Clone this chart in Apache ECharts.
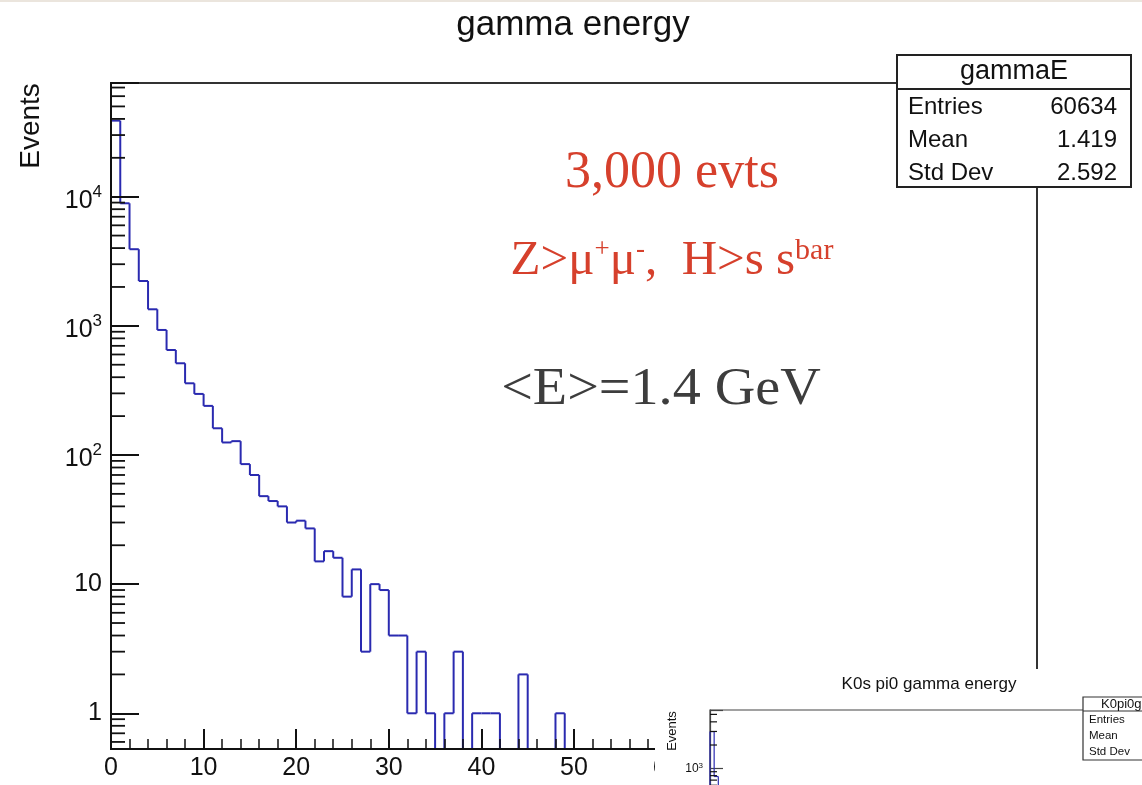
<!DOCTYPE html>
<html>
<head>
<meta charset="utf-8">
<title>gamma energy</title>
<script src="https://cdn.jsdelivr.net/npm/echarts@6/dist/echarts.min.js"></script>
<style>
  html, body { margin: 0; padding: 0; background: #ffffff; }
  #chart { width: 1142px; height: 785px; }
</style>
</head>
<body>
<div id="chart"></div>
<script>
// ---- histogram contents (1 GeV bins starting at 0) ----
const binWidth = 1;
const gammaCounts = [
  38800, 8890, 3920, 2225, 1343, 929, 650, 513, 359, 297,
  240, 161, 125, 128, 85, 70, 48, 44, 40, 30,
  31, 27, 15, 18, 16, 8, 13, 3, 10, 9,
  4, 4, 1, 3, 1, 0, 1, 3, 0, 1,
  1, 1, 0, 0, 2, 0, 0, 0, 1, 0,
  0, 0, 0, 0, 0, 0, 0, 0
];
// second pad: K0s pi0 photons (only the first bins are on the page)
const k0Counts = [2990, 780];

// ---- axis ticks ----
const yTickValues = [1, 10, 100, 1000, 10000];
const yTickLabels = ['1', '10', '{b|10}{sup|2}', '{b|10}{sup|3}', '{b|10}{sup|4}'];
const yMinorTicks = [
  0.6, 0.7, 0.8, 0.9,
  2, 3, 4, 5, 6, 7, 8, 9,
  20, 30, 40, 50, 60, 70, 80, 90,
  200, 300, 400, 500, 600, 700, 800, 900,
  2000, 3000, 4000, 5000, 6000, 7000, 8000, 9000,
  20000, 30000, 40000, 50000, 60000, 70000
];
const k0MinorTicks = [600, 700, 800, 900, 2000, 3000, 4000, 5000];

// ---- stats boxes ----
const statsTitle = 'gammaE';
const statsLabels = ['Entries', 'Mean', 'Std Dev'];
const statsValues = ['60634', '1.419', '2.592'];
const k0StatsTitle = 'K0pi0gammaE';
const k0StatsLabels = ['Entries', 'Mean', 'Std Dev'];

// ---- texts ----
const mainTitle = 'gamma energy';
const k0Title = 'K0s pi0 gamma energy';
const yName = 'Events';
const noteEvents = '3,000 evts';
const noteMean = '<E>=1.4 GeV';

const SANS = 'Liberation Sans, Arial, Helvetica, sans-serif';
const SERIF = 'Liberation Serif, Times New Roman, serif';
const RED = '#d6402c';
const INK = '#111111';
const HIST = '#2a2ab0';

function decadeLabel(v) {
  const k = yTickValues.findIndex(t => Math.abs(Math.log10(v) - Math.log10(t)) < 1e-6);
  return k >= 0 ? yTickLabels[k] : '';
}

// step outline of a 1-D histogram; empty bins sit on the frame bottom
function histRenderer(counts, color, width) {
  return function (params, api) {
    const i = params.dataIndex;
    const lo = api.value(0), hi = api.value(1), c = api.value(2);
    const cs = params.coordSys;
    const bottom = cs.y + cs.height;
    const yOf = v => (v > 0 ? api.coord([lo, v])[1] : bottom);
    const xl = api.coord([lo, 1])[0];
    const xr = api.coord([hi, 1])[0];
    const prev = i > 0 ? counts[i - 1] : 0;
    const y = yOf(c), yp = yOf(prev);
    const st = { stroke: color, lineWidth: width };
    const children = [];
    if (c > 0) children.push({ type: 'line', shape: { x1: xl, y1: y, x2: xr, y2: y }, style: st });
    if (Math.abs(y - yp) > 0.01) children.push({ type: 'line', shape: { x1: xl, y1: yp, x2: xl, y2: y }, style: st });
    if (i === counts.length - 1 && c > 0) children.push({ type: 'line', shape: { x1: xr, y1: y, x2: xr, y2: bottom }, style: st });
    return { type: 'group', children };
  };
}

// short minor ticks on a log axis at 2..9 x 10^n
function minorTickRenderer(len, width) {
  return function (params, api) {
    const p = api.coord([api.value(0), api.value(1)]);
    return {
      type: 'line',
      shape: { x1: p[0], y1: p[1], x2: p[0] + len, y2: p[1] },
      style: { stroke: INK, lineWidth: width }
    };
  };
}

function histData(counts) {
  return counts.map((c, i) => [i * binWidth, (i + 1) * binWidth, c]);
}

const chart = echarts.init(document.getElementById('chart'), null, { renderer: 'canvas' });

const option = {
  animation: false,
  backgroundColor: '#ffffff',
  grid: [
    { left: 111, top: 83, width: 926, height: 666, show: true, borderColor: '#333', borderWidth: 2,
      backgroundColor: 'transparent', z: 0, containLabel: false, outerBoundsMode: 'none' },
    { left: 710, top: 710, width: 433, height: 76, show: true, borderColor: '#444', borderWidth: 1.2,
      backgroundColor: 'transparent', z: 60, containLabel: false, outerBoundsMode: 'none' }
  ],
  xAxis: [
    {
      gridIndex: 0, type: 'value', min: 0, max: 100, interval: 10, z: 5,
      axisLine: { show: true, lineStyle: { color: INK, width: 2 } },
      axisTick: { show: true, inside: true, length: 20, lineStyle: { color: INK, width: 2 } },
      minorTick: { show: true, splitNumber: 5, length: 10, lineStyle: { color: INK, width: 1.5 } },
      splitLine: { show: false },
      axisLabel: { show: true, fontSize: 25, color: INK, fontFamily: SANS, margin: 7 }
    },
    {
      gridIndex: 1, type: 'value', min: 0, max: 104.3, z: 60,
      axisLine: { show: false },
      axisTick: { show: false },
      splitLine: { show: false },
      axisLabel: { show: false }
    }
  ],
  yAxis: [
    {
      gridIndex: 0, type: 'log', logBase: 10, min: 0.529, max: 75900, z: 5,
      axisLine: { show: true, lineStyle: { color: INK, width: 2 } },
      axisTick: { show: true, inside: true, length: 28, lineStyle: { color: INK, width: 2 } },
      minorTick: { show: false },
      splitLine: { show: false },
      axisLabel: {
        show: true, fontSize: 25, color: INK, fontFamily: SANS, margin: 9,
        formatter: decadeLabel,
        rich: {
          b: { fontSize: 25, color: INK, fontFamily: SANS, padding: [9, 0, 0, 0] },
          sup: { fontSize: 17, color: INK, fontFamily: SANS, verticalAlign: 'top', padding: [4, 0, 0, 0] }
        }
      }
    },
    {
      gridIndex: 1, type: 'log', logBase: 10, min: 587, max: 5700, z: 60,
      axisLine: { show: true, lineStyle: { color: '#444', width: 1.2 } },
      axisTick: { show: true, inside: true, length: 13, lineStyle: { color: '#444', width: 1.2 } },
      minorTick: { show: false },
      splitLine: { show: false },
      axisLabel: {
        show: true, fontSize: 12, color: INK, fontFamily: SANS, margin: 7,
        formatter: decadeLabel,
        rich: {
          b: { fontSize: 12, color: INK, fontFamily: SANS },
          sup: { fontSize: 8, color: INK, fontFamily: SANS, verticalAlign: 'top' }
        }
      }
    }
  ],
  series: [
    {
      name: 'gammaE', type: 'custom', xAxisIndex: 0, yAxisIndex: 0, z: 3,
      encode: { x: [0, 1], y: 2 },
      renderItem: histRenderer(gammaCounts, HIST, 2),
      data: histData(gammaCounts), clip: false, silent: true
    },
    {
      name: 'yMinor', type: 'custom', xAxisIndex: 0, yAxisIndex: 0, z: 6,
      encode: { x: 0, y: 1 },
      renderItem: minorTickRenderer(14, 1.8),
      data: yMinorTicks.map(v => [0, v]), clip: false, silent: true
    },
    {
      name: 'K0pi0gammaE', type: 'custom', xAxisIndex: 1, yAxisIndex: 1, z: 61,
      encode: { x: [0, 1], y: 2 },
      renderItem: histRenderer(k0Counts, HIST, 1.2),
      data: histData(k0Counts), clip: false, silent: true
    },
    {
      name: 'k0Minor', type: 'custom', xAxisIndex: 1, yAxisIndex: 1, z: 62,
      encode: { x: 0, y: 1 },
      renderItem: minorTickRenderer(7, 1.2),
      data: k0MinorTicks.map(v => [0, v]), clip: false, silent: true
    }
  ],
  graphic: [
    // faint strip along the top edge
    { type: 'rect', z: 1, shape: { x: 0, y: 0, width: 1142, height: 2 }, style: { fill: '#ebe5dd' }, silent: true },
    // main title
    { type: 'text', z: 10, x: 573, y: 25,
      style: { text: mainTitle, fontSize: 35, fontFamily: SANS, fill: INK, align: 'center', verticalAlign: 'middle' } },
    // y axis title
    { type: 'text', z: 10, x: 31, y: 126, rotation: Math.PI / 2,
      style: { text: yName, fontSize: 28, fontFamily: SANS, fill: INK, align: 'center', verticalAlign: 'middle' } },
    // annotations
    { type: 'text', z: 10, x: 672, y: 173,
      style: { text: noteEvents, fontSize: 52, fontFamily: SERIF, fill: RED, align: 'center', verticalAlign: 'middle' } },
    { type: 'text', z: 10, x: 672, y: 261,
      style: {
        text: '{n|Z>μ}{s|+}{n|μ}{s|-}{n|,  H>s s}{b|bar}',
        align: 'center', verticalAlign: 'middle',
        rich: {
          n: { fontSize: 49, fontFamily: SERIF, fill: RED },
          s: { fontSize: 27, fontFamily: SERIF, fill: RED, verticalAlign: 'top' },
          b: { fontSize: 30, fontFamily: SERIF, fill: RED, verticalAlign: 'top' }
        }
      } },
    { type: 'text', z: 10, x: 661, y: 390, scaleX: 1.08,
      style: { text: noteMean, fontSize: 52, fontFamily: SERIF, fill: '#3d3d3d', align: 'center', verticalAlign: 'middle' } },
    // stats box of the main histogram
    { type: 'rect', z: 40, shape: { x: 897, y: 55, width: 234, height: 132 },
      style: { fill: '#fff', stroke: '#222', lineWidth: 2 } },
    { type: 'line', z: 41, shape: { x1: 897, y1: 89, x2: 1131, y2: 89 }, style: { stroke: '#222', lineWidth: 2 } },
    { type: 'text', z: 42, x: 1014, y: 72,
      style: { text: statsTitle, fontSize: 27, fontFamily: SANS, fill: INK, align: 'center', verticalAlign: 'middle' } },
    ...statsLabels.map((t, i) => ({ type: 'text', z: 42, x: 908, y: 107 + i * 33,
      style: { text: t, fontSize: 24, fontFamily: SANS, fill: INK, align: 'left', verticalAlign: 'middle' } })),
    ...statsValues.map((t, i) => ({ type: 'text', z: 42, x: 1117, y: 107 + i * 33,
      style: { text: t, fontSize: 24, fontFamily: SANS, fill: INK, align: 'right', verticalAlign: 'middle' } })),
    // second pad, overlapping the lower right corner
    { type: 'rect', z: 50, shape: { x: 655, y: 669, width: 487, height: 116 }, style: { fill: '#fff' }, silent: true },
    { type: 'text', z: 62, x: 929, y: 684,
      style: { text: k0Title, fontSize: 17, fontFamily: SANS, fill: INK, align: 'center', verticalAlign: 'middle' } },
    { type: 'text', z: 62, x: 672, y: 731, rotation: Math.PI / 2,
      style: { text: yName, fontSize: 13, fontFamily: SANS, fill: INK, align: 'center', verticalAlign: 'middle' } },
    { type: 'rect', z: 70, shape: { x: 1083, y: 697, width: 80, height: 63 },
      style: { fill: '#fff', stroke: '#333', lineWidth: 1.2 } },
    { type: 'line', z: 71, shape: { x1: 1083, y1: 711, x2: 1142, y2: 711 }, style: { stroke: '#333', lineWidth: 1.2 } },
    { type: 'text', z: 72, x: 1101, y: 704,
      style: { text: k0StatsTitle, fontSize: 13, fontFamily: SANS, fill: INK, align: 'left', verticalAlign: 'middle' } },
    ...k0StatsLabels.map((t, i) => ({ type: 'text', z: 72, x: 1089, y: 720 + i * 16,
      style: { text: t, fontSize: 11.5, fontFamily: SANS, fill: INK, align: 'left', verticalAlign: 'middle' } }))
  ]
};

chart.setOption(option);
</script>
</body>
</html>
